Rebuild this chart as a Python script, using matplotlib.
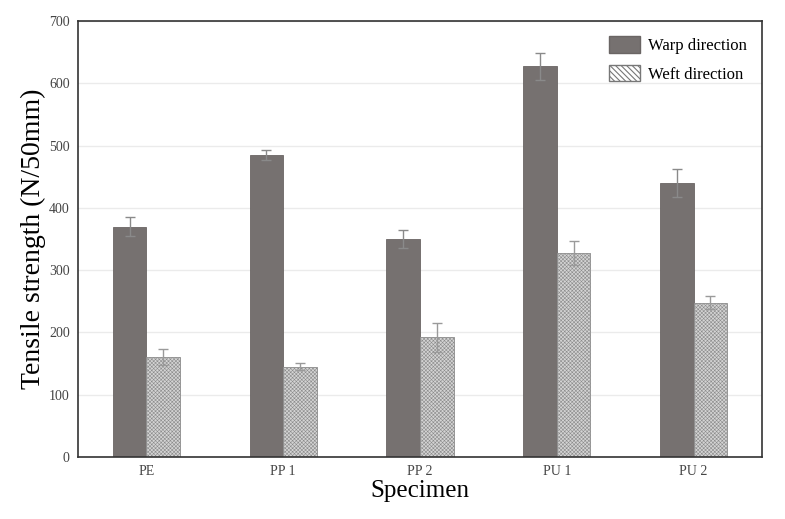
import matplotlib
matplotlib.use("Agg")
import matplotlib.pyplot as plt
import numpy as np
from matplotlib.patches import Patch

specimens = ["PE", "PP 1", "PP 2", "PU 1", "PU 2"]
warp = [370, 485, 350, 627, 440]
warp_err = [15, 8, 14, 21, 22]
weft = [160, 145, 192, 327, 248]
weft_err = [13, 6, 23, 19, 10]

plt.rcParams["font.family"] = ["Liberation Serif", "DejaVu Serif"]
plt.rcParams["hatch.linewidth"] = 0.4

fig = plt.figure(figsize=(7.85, 5.19), dpi=100)
ax = fig.add_axes([78 / 785, 1 - 457 / 519, (762 - 78) / 785, (457 - 21) / 519])

x = np.arange(len(specimens))
w = 0.245
ax.bar(x - w / 2, warp, w, color="#767170", edgecolor="#6a6564", linewidth=0.6, zorder=2)
ax.bar(x + w / 2, weft, w, color="#d4d4d4", edgecolor="#8c8c8c", hatch="xxxxxxxxx",
       linewidth=0.6, zorder=2)
ax.errorbar(x - w / 2, warp, yerr=warp_err, fmt="none", ecolor="#8a8a8a",
            elinewidth=1, capsize=3.5, capthick=1, zorder=3)
ax.errorbar(x + w / 2, weft, yerr=weft_err, fmt="none", ecolor="#9a9a9a",
            elinewidth=1, capsize=3.5, capthick=1, zorder=3)

ax.set_xlim(-0.5, 4.5)
ax.set_ylim(0, 700)
ax.set_yticks(range(0, 701, 100))
ax.set_xticks(x)
ax.set_xticklabels(specimens)
ax.tick_params(axis="both", length=0, labelsize=10, colors="#444444", pad=6)
ax.yaxis.grid(True, color="#ebebeb", linewidth=1, zorder=0)
ax.set_axisbelow(True)
for s in ax.spines.values():
    s.set_color("#333333")
    s.set_linewidth(1.2)

ax.set_ylabel("Tensile strength (N/50mm)", fontsize=20, labelpad=2)
ax.set_xlabel("Specimen", fontsize=18, labelpad=1)

plt.rcParams["hatch.linewidth"] = 0.8
handles = [Patch(facecolor="#767170", edgecolor="#6a6564"),
           Patch(facecolor="white", edgecolor="#777777", hatch="\\\\\\\\\\\\")]
ax.legend(handles, ["Warp direction", "Weft direction"], loc="upper right",
          frameon=False, fontsize=12, handlelength=1.85, handleheight=1.15,
          borderaxespad=0.5, labelspacing=0.65, handletextpad=0.5)

fig.savefig("out.png", dpi=100)
